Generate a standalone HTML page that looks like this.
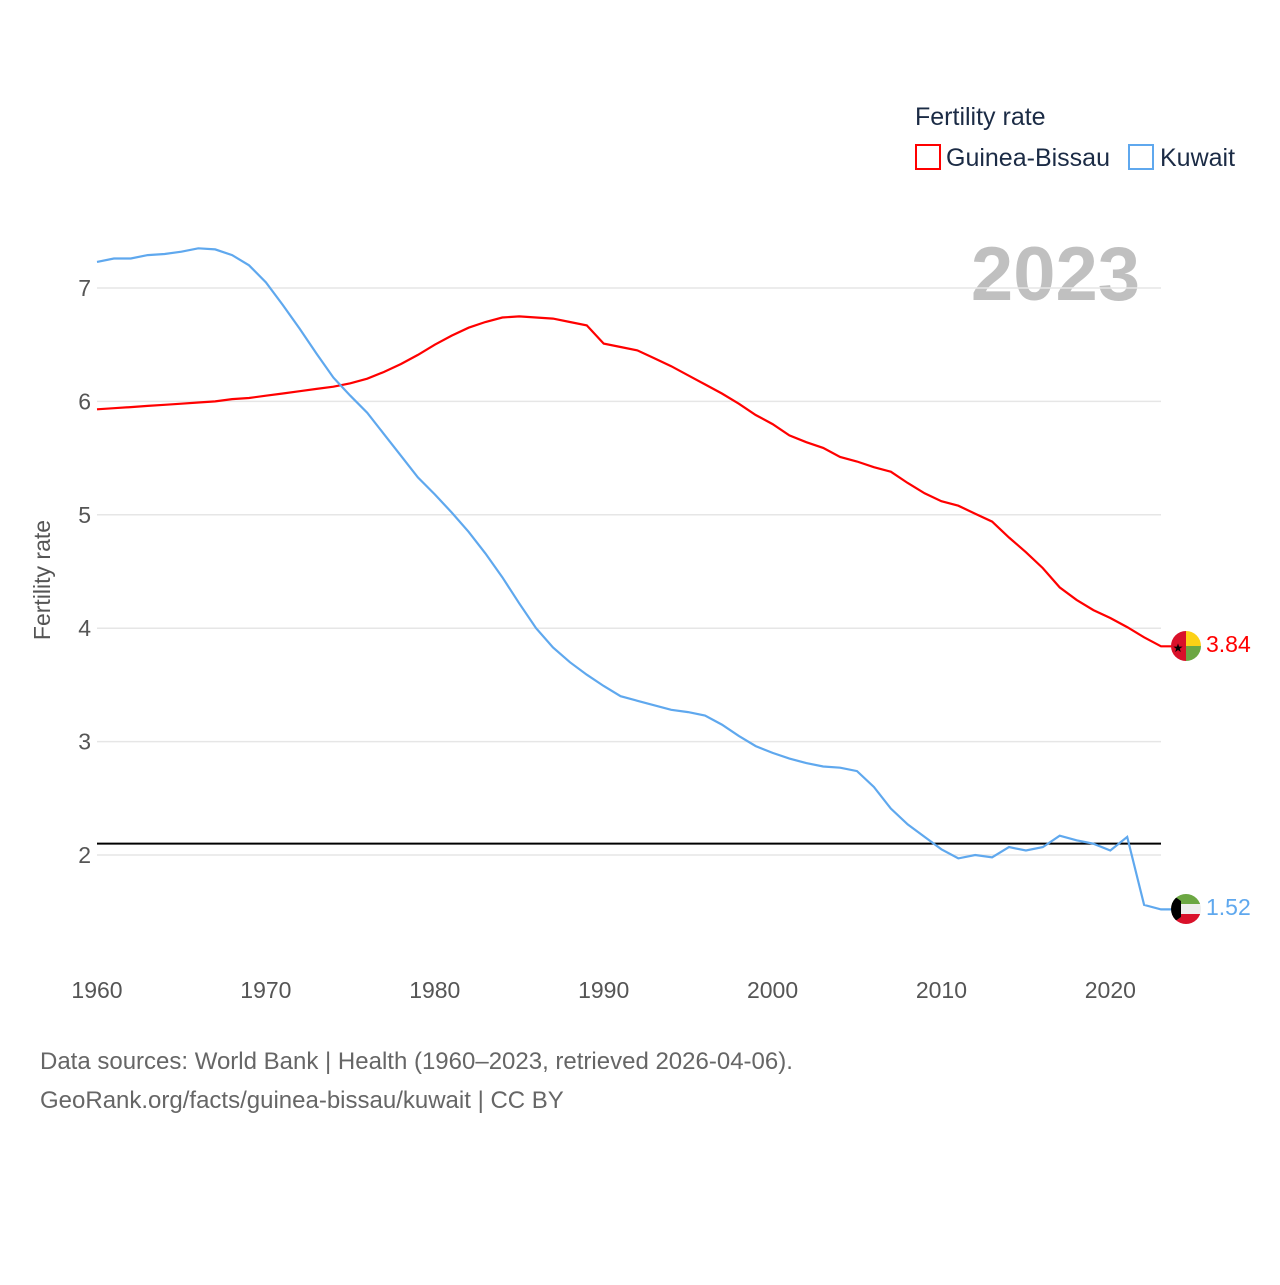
<!DOCTYPE html>
<html><head><meta charset="utf-8"><style>
body{margin:0;background:#fff;font-family:"Liberation Sans",sans-serif}
svg text{font-family:"Liberation Sans",sans-serif}
</style></head><body>
<svg id="chart" width="1280" height="1280">
<defs>
<clipPath id="c1"><circle cx="1186" cy="646" r="15"/></clipPath>
<clipPath id="c2"><circle cx="1186" cy="909" r="15"/></clipPath>
</defs>
<text x="915" y="125" font-size="25" fill="#1b2b45">Fertility rate</text>
<g><rect x="916" y="145" width="24" height="24" fill="none" stroke="#ff0000" stroke-width="2"/><text x="946" y="166" font-size="25" fill="#1b2b45">Guinea-Bissau</text></g>
<g><rect x="1129" y="145" width="24" height="24" fill="none" stroke="#5fa8ee" stroke-width="2"/><text x="1160" y="166" font-size="25" fill="#1b2b45">Kuwait</text></g>
<text x="1140" y="300" font-size="76" font-weight="bold" fill="#c0c0c0" text-anchor="end">2023</text>
<text transform="translate(50,580) rotate(-90)" font-size="23" fill="#555" text-anchor="middle">Fertility rate</text>
<g id="grid"></g><g id="lines"></g>
<g clip-path="url(#c1)"><rect x="1171" y="631" width="15" height="30" fill="#d9112a"/><rect x="1186" y="631" width="15" height="15" fill="#fcd116"/><rect x="1186" y="646" width="15" height="15" fill="#6ca743"/><text x="1178" y="652" font-size="12" text-anchor="middle" fill="#000">★</text></g>
<g clip-path="url(#c2)"><rect x="1171" y="894" width="30" height="10" fill="#6ca743"/><rect x="1171" y="904" width="30" height="10" fill="#eee"/><rect x="1171" y="914" width="30" height="10" fill="#d9112a"/><polygon points="1171,894 1181,901 1181,917 1171,924" fill="#000"/></g>
<text x="1206" y="652" font-size="23" fill="#ff0000">3.84</text>
<text x="1206" y="915" font-size="23" fill="#5fa8ee">1.52</text>
<text x="40" y="1069" font-size="24" fill="#666">Data sources: World Bank | Health (1960–2023, retrieved 2026-04-06).</text>
<text x="40" y="1108" font-size="24" fill="#666">GeoRank.org/facts/guinea-bissau/kuwait | CC BY</text>
</svg>
<script>
const years=[];for(let y=1960;y<=2023;y++)years.push(y);
const guineaBissau=[5.93,5.94,5.95,5.96,5.97,5.98,5.99,6.00,6.02,6.03,6.05,6.07,6.09,6.11,6.13,6.16,6.20,6.26,6.33,6.41,6.50,6.58,6.65,6.70,6.74,6.75,6.74,6.73,6.70,6.67,6.51,6.48,6.45,6.38,6.31,6.23,6.15,6.07,5.98,5.88,5.80,5.70,5.64,5.59,5.51,5.47,5.42,5.38,5.28,5.19,5.12,5.08,5.01,4.94,4.80,4.67,4.53,4.36,4.25,4.16,4.09,4.01,3.92,3.84];
const kuwait=[7.23,7.26,7.26,7.29,7.30,7.32,7.35,7.34,7.29,7.20,7.05,6.85,6.64,6.42,6.21,6.05,5.90,5.71,5.52,5.33,5.18,5.02,4.85,4.66,4.45,4.22,4.00,3.83,3.70,3.59,3.49,3.40,3.36,3.32,3.28,3.26,3.23,3.15,3.05,2.96,2.90,2.85,2.81,2.78,2.77,2.74,2.60,2.41,2.27,2.16,2.05,1.97,2.00,1.98,2.07,2.04,2.07,2.17,2.13,2.10,2.04,2.16,1.56,1.52];
const yTicks=[2,3,4,5,6,7];
const xTicks=[1960,1970,1980,1990,2000,2010,2020];
const refValue=2.1;
const X=v=>97+(v-1960)*(1064/63);
const Y=v=>855-(v-2)*113.4;
const NS="http://www.w3.org/2000/svg";
const grid=document.getElementById('grid'),lines=document.getElementById('lines');
function mk(tag,attrs,parent){const e=document.createElementNS(NS,tag);for(const k in attrs)e.setAttribute(k,attrs[k]);parent.appendChild(e);return e;}
yTicks.forEach(t=>{
 const l=mk('line',{x1:97,x2:1161,y1:Y(t),y2:Y(t),stroke:'#e6e6e6','stroke-width':1.5},grid);
 
 
 const tx=mk('text',{x:91,y:Y(t)+8,'font-size':23,fill:'#555','text-anchor':'end'},grid);tx.textContent=t;
 
 
});
xTicks.forEach(t=>{
 const tx=mk('text',{x:X(t),y:998,'font-size':23,fill:'#555','text-anchor':'middle'},grid);tx.textContent=t;
 
 
});
const rl=mk('line',{x1:97,x2:1161,y1:Y(refValue),y2:Y(refValue),stroke:'#000','stroke-width':2},lines);


function series(vals,color,name){
 const last=vals[vals.length-1];
 const d=vals.map((v,i)=>(i?'L':'M')+X(years[i]).toFixed(1)+','+Y(v).toFixed(1)).join('')+'L1172,'+Y(last).toFixed(1);
 const p=mk('path',{d:d,fill:'none',stroke:color,'stroke-width':2.2},lines);
 
 
}
series(guineaBissau,'#ff0000','line-guinea-bissau');
series(kuwait,'#5fa8ee','line-kuwait');
</script>
</body></html>
